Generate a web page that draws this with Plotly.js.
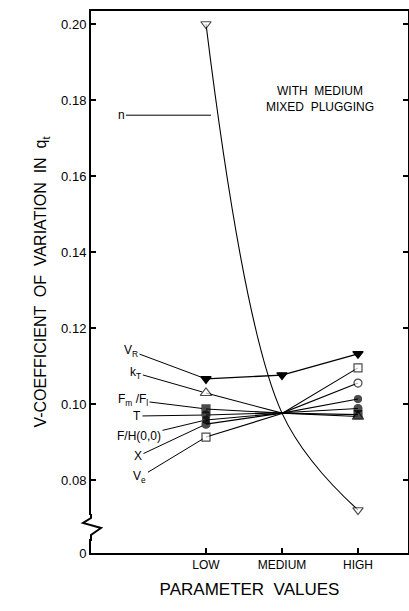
<!DOCTYPE html>
<html>
<head>
<meta charset="utf-8">
<script src="https://cdn.plot.ly/plotly-3.0.1.min.js"></script>
<style>html,body{margin:0;padding:0;background:#fff;}#chart{width:409px;height:611px;}</style>
</head>
<body>
<div id="chart"></div>
<script>
// ---- data ----
const categories = ['LOW', 'MEDIUM', 'HIGH'];
const vR   = [0.1066, 0.1076, 0.1132];
const kT   = [0.1029, 0.0976, 0.0967];
const fmfl = [0.0987, 0.0976, 0.0972];
const tT   = [0.0971, 0.0977, 0.0988];
const fh   = [0.0958, 0.0976, 0.1013];
const xX   = [0.0947, 0.0976, 0.1055];
const vE   = [0.0913, 0.0975, 0.1095];
const nN   = [0.2000, 0.0976, 0.0721];
const yTickVals = [0.0608, 0.08, 0.10, 0.12, 0.14, 0.16, 0.18, 0.20];
const yTickText = ['0', '0.08', '0.10', '0.12', '0.14', '0.16', '0.18', '0.20'];

// ---- layout geometry ----
const W = 409, H = 611;
const M = {l: 91, r: 1, t: 11, b: 58};
const pw = W - M.l - M.r, ph = H - M.t - M.b;
const px = x => (x - M.l) / pw;
const py = y => (H - M.b - y) / ph;

const FONT = 'Liberation Sans, Arial, sans-serif';

function tr(y, symbol, fill, size, endsOnly, width) {
  return {
    x: categories, y: y, type: 'scatter', mode: 'lines+markers',
    line: {color: 'black', width: width || 1.1, shape: 'linear'},
    marker: {symbol: symbol, color: fill,
             size: endsOnly ? [size, 0, size] : size,
             line: {color: 'black', width: endsOnly ? [1.2, 0, 1.2] : 1.2}},
    cliponaxis: false, hoverinfo: 'skip', showlegend: false
  };
}

const nTrace = tr(nN, 'triangle-down', 'white', 9, true, 1.1);
nTrace.line.shape = 'spline';
nTrace.line.smoothing = 1.0;

const data = [
  nTrace,
  tr(kT, 'triangle-up', 'white', 10, true),
  tr(xX, 'circle', ['black', 'white', 'white'], 8, true),
  tr(vE, 'square', 'white', 8, true),
  tr(fh, 'circle', 'black', 7, true),
  tr(tT, 'circle', 'black', 8, true),
  tr(fmfl, 'square', 'black', 8, true),
  tr(vR, 'triangle-down', 'black', 9, false, 1.4)
];

function lab(text, x, y, ax, ay) {
  return {x: x, y: y, xref: 'x', yref: 'y', text: text, showarrow: true,
          arrowhead: 0, arrowwidth: 1, arrowcolor: 'black', standoff: 4,
          ax: ax, ay: ay, font: {family: FONT, size: 12, color: 'black'}};
}

const annotations = [
  lab('V<sub>R</sub>', 0, vR[0], -75, -28),
  lab('k<sub>T</sub>', 0, kT[0], -70, -20),
  lab('F<sub>m</sub> /F<sub>l</sub>', 0, fmfl[0], -73, -9),
  lab('T', 0, tT[0], -69, 1),
  lab('F/H(0,0)', 0, fh[0], -67, 16),
  lab('X', 0, xX[0], -68, 32),
  lab('V<sub>e</sub>', 0, vE[0], -66, 40),
  Object.assign(lab('n', 0.066, 0.176, -90, 0), {standoff: 0}),
  {xref: 'paper', yref: 'paper', x: px(320), y: py(99), xanchor: 'center', yanchor: 'middle',
   text: 'WITH  MEDIUM<br>MIXED  PLUGGING',
   showarrow: false, font: {family: FONT, size: 12, color: 'black'}, align: 'center'}
];

const shapes = [
  {type: 'rect', xref: 'paper', yref: 'paper', x0: px(78), x1: px(96), y0: py(539), y1: py(515),
   fillcolor: 'white', line: {width: 0}, layer: 'above'},
  {type: 'path', xref: 'paper', yref: 'paper', layer: 'above',
   path: 'M' + px(91) + ',' + py(514) + ' L' + px(91) + ',' + py(518) + ' L' + px(83) + ',' + py(523) +
         ' L' + px(101) + ',' + py(528) + ' L' + px(91) + ',' + py(535) + ' L' + px(91) + ',' + py(541),
   line: {color: 'black', width: 2}}
];

const layout = {
  width: W, height: H, margin: M,
  paper_bgcolor: 'white', plot_bgcolor: 'white',
  showlegend: false,
  font: {family: FONT, color: 'black'},
  xaxis: {
    type: 'category', range: [-1.513, 2.658],
    showgrid: false, zeroline: false,
    showline: true, linewidth: 2, linecolor: 'black', mirror: true,
    ticks: 'inside', ticklen: 5, tickwidth: 1.2, tickcolor: 'black',
    tickfont: {family: FONT, size: 12, color: 'black'},
    title: {text: 'PARAMETER  VALUES', font: {family: FONT, size: 17, color: 'black'}, standoff: 12}
  },
  yaxis: {
    range: [0.06079, 0.20342],
    tickvals: yTickVals, ticktext: yTickText,
    showgrid: false, zeroline: false,
    showline: true, linewidth: 2, linecolor: 'black', mirror: 'ticks',
    ticks: 'inside', ticklen: 5, tickwidth: 1.2, tickcolor: 'black',
    tickfont: {family: FONT, size: 13, color: 'black'},
    title: {text: 'V-COEFFICIENT  OF  VARIATION  IN  q<sub>t</sub>', font: {family: FONT, size: 16, color: 'black'}, standoff: 10}
  },
  annotations: annotations,
  shapes: shapes
};

Plotly.newPlot('chart', data, layout, {staticPlot: true, displayModeBar: false});
</script>
</body>
</html>
